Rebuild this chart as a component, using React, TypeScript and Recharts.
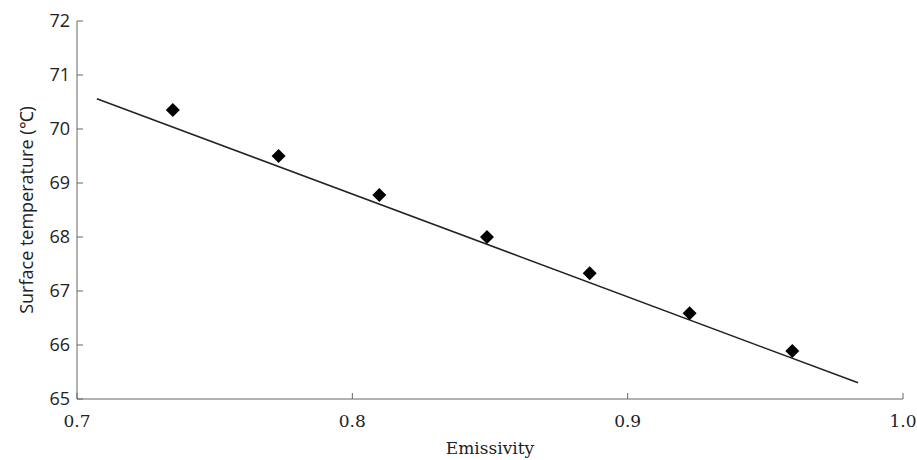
import { ScatterChart, Scatter, XAxis, YAxis, Label } from 'recharts';

// measured points (emissivity vs surface temperature)
const emissivity = [0.7348, 0.7732, 0.8098, 0.8489, 0.8862, 0.9225, 0.9598];
const surfaceTemp = [70.35, 69.5, 68.78, 68.0, 67.33, 66.59, 65.89];

// fitted line end points
const fitX = [0.7072, 0.9837];
const fitY = [70.56, 65.3];

const xTicks = [0.7, 0.8, 0.9, 1.0];
const yTicks = [65, 66, 67, 68, 69, 70, 71, 72];

const points = emissivity.map((x, i) => ({ x, y: surfaceTemp[i] }));
const fitLine = fitX.map((x, i) => ({ x, y: fitY[i] }));

const axisColor = '#666';
const sans = '"Open Sans", sans-serif';
const serif = '"DejaVu Serif", serif';

// square diamond marker centred on the scaled point
const Diamond = (props: any) => {
  const { cx, cy } = props;
  const r = 7;
  return <polygon points={`${cx},${cy - r} ${cx + r},${cy} ${cx},${cy + r} ${cx - r},${cy}`} fill="#000" />;
};

export default function App() {
  return (
    <div style={{ position: 'absolute', left: 0, top: 0, background: '#fff' }}>
      <ScatterChart width={917} height={460} margin={{ top: 21, right: 14, left: 27, bottom: 6 }}>
        <XAxis
          type="number"
          dataKey="x"
          domain={[0.7, 1.0]}
          ticks={xTicks}
          tickFormatter={(v: number) => v.toFixed(1)}
          height={55}
          stroke={axisColor}
          tickSize={-6}
          tickMargin={22}
          tick={{ fontSize: 17, fontFamily: serif, fill: '#222' }}
        >
          <Label value="Emissivity" position="insideBottom" offset={0} style={{ fontSize: 17, fontFamily: serif, fill: '#222' }} />
        </XAxis>
        <YAxis
          type="number"
          dataKey="y"
          domain={[65, 72]}
          ticks={yTicks}
          width={50}
          stroke={axisColor}
          tickSize={-6}
          tickMargin={13}
          tick={{ fontSize: 18, fontFamily: sans, fill: '#222' }}
        >
          <Label
            value="Surface temperature (℃)"
            angle={-90}
            position="insideLeft"
            offset={0}
            style={{ fontSize: 18, fontFamily: sans, fill: '#222', textAnchor: 'middle' }}
          />
        </YAxis>
        <Scatter
          data={fitLine}
          line={{ stroke: '#222', strokeWidth: 1.5 }}
          shape={() => null}
          isAnimationActive={false}
        />
        <Scatter data={points} shape={Diamond} isAnimationActive={false} />
      </ScatterChart>
    </div>
  );
}
